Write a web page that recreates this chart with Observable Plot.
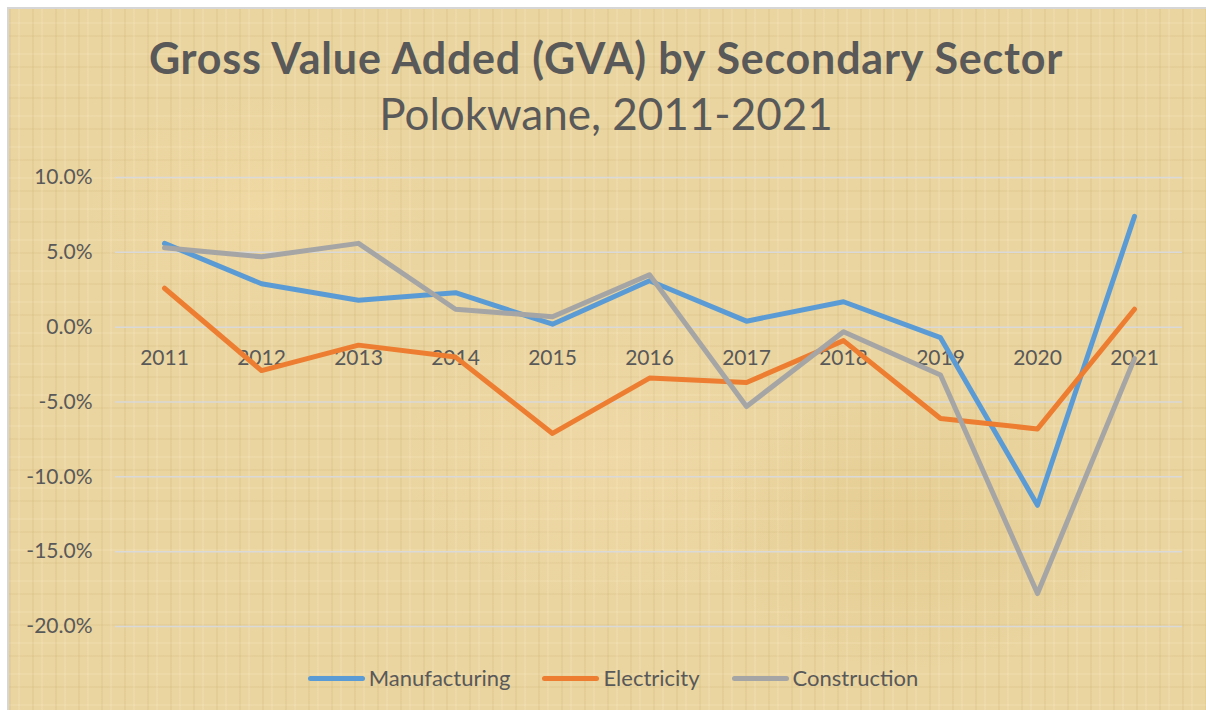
<!DOCTYPE html>
<html>
<head>
<meta charset="utf-8">
<script src="https://cdn.jsdelivr.net/npm/d3@7"></script>
<script src="https://cdn.jsdelivr.net/npm/@observablehq/plot@0.6"></script>
<style>
  html, body { margin: 0; padding: 0; background: #ffffff; }
  #frame {
    position: absolute; left: 7px; top: 7px; width: 1210px; height: 714px;
    border: 2px solid #d6d6d6; box-sizing: border-box; overflow: hidden;
    background-color: #ead49f;
    background-image:
      radial-gradient(ellipse 180px 120px at 250px 200px, rgba(250,225,170,0.35), transparent),
      radial-gradient(ellipse 200px 140px at 900px 520px, rgba(215,185,110,0.25), transparent),
      radial-gradient(ellipse 220px 150px at 600px 450px, rgba(250,225,180,0.30), transparent),
      repeating-linear-gradient(90deg, rgba(170,140,70,0.09) 0 2px, transparent 2px 9px, rgba(255,245,210,0.16) 9px 11px, transparent 11px 23px),
      repeating-linear-gradient(0deg, rgba(170,140,70,0.07) 0 2px, transparent 2px 13px, rgba(255,245,215,0.14) 13px 15px, transparent 15px 31px);
    font-family: Lato, "Open Sans", sans-serif; color: #595959;
  }
  .title { position: absolute; left: -6px; width: 1206px; text-align: center; white-space: nowrap; }
  #t1 { top: 27px; font-size: 43px; line-height: 43px; font-weight: 700; letter-spacing: 0.8px; }
  #t2 { top: 82px; font-size: 44px; line-height: 44px; font-weight: 400; }
  #chart { position: absolute; left: -9px; top: 134px; }
  #legend { position: absolute; left: 1px; top: 656px; width: 1206px; display: flex; justify-content: center; font-size: 22px; line-height: 26px; }
  .item { display: flex; align-items: center; margin: 0 16px; }
  .sw { width: 57px; height: 5px; border-radius: 3px; margin-right: 4px; }
</style>
</head>
<body>
<div id="frame">
  <div class="title" id="t1">Gross Value Added (GVA) by Secondary Sector</div>
  <div class="title" id="t2">Polokwane, 2011-2021</div>
  <div id="chart"></div>
  <div id="legend"></div>
</div>
<script>
const years = [2011, 2012, 2013, 2014, 2015, 2016, 2017, 2018, 2019, 2020, 2021];
const manufacturing = [5.6, 2.9, 1.8, 2.3, 0.2, 3.1, 0.4, 1.7, -0.7, -11.9, 7.4];
const electricity = [2.6, -2.9, -1.2, -2.0, -7.1, -3.4, -3.7, -0.9, -6.1, -6.8, 1.2];
const construction = [5.3, 4.7, 5.6, 1.2, 0.7, 3.5, -5.3, -0.3, -3.2, -17.8, -2.1];
const seriesNames = ["Manufacturing", "Electricity", "Construction"];
const seriesColors = ["#5b9bd5", "#ed7d31", "#a5a5a5"];
const yTicks = [10, 5, 0, -5, -10, -15, -20];

const seriesValues = [manufacturing, electricity, construction];
const rows = seriesNames.flatMap((name, i) =>
  years.map((yr, j) => ({series: name, year: String(yr), value: seriesValues[i][j]})));

const plot = Plot.plot({
  width: 1206,
  height: 507,
  marginTop: 34,
  marginBottom: 24,
  marginLeft: 115,
  marginRight: 24,
  style: {background: "transparent", fontFamily: "Lato, 'Open Sans', sans-serif", color: "#595959", fontSize: "21px"},
  x: {type: "point", domain: years.map(String), padding: 0.5, axis: null},
  y: {domain: [-20, 10], axis: null},
  color: {domain: seriesNames, range: seriesColors},
  marks: [
    Plot.ruleY(yTicks, {stroke: "#d9d9d9", strokeWidth: 1.5}),
    Plot.axisY({ticks: yTicks, tickSize: 0, tickPadding: 23, tickFormat: d => d.toFixed(1) + "%", fontSize: 21, fill: "#595959", label: null}),
    Plot.text(years.map(String), {x: d => d, y: () => 0, dy: 31, text: d => d, fontSize: 21, fill: "#595959"}),
    Plot.line(rows, {x: "year", y: "value", z: "series", stroke: "series", strokeWidth: 5, strokeLinejoin: "round", strokeLinecap: "round"})
  ]
});
document.getElementById("chart").appendChild(plot);

const legend = document.getElementById("legend");
seriesNames.forEach((n, i) => {
  const it = document.createElement("div");
  it.className = "item";
  const sw = document.createElement("div");
  sw.className = "sw";
  sw.style.background = seriesColors[i];
  const tx = document.createElement("span");
  tx.textContent = n;
  it.appendChild(sw); it.appendChild(tx);
  legend.appendChild(it);
});
</script>
</body>
</html>
